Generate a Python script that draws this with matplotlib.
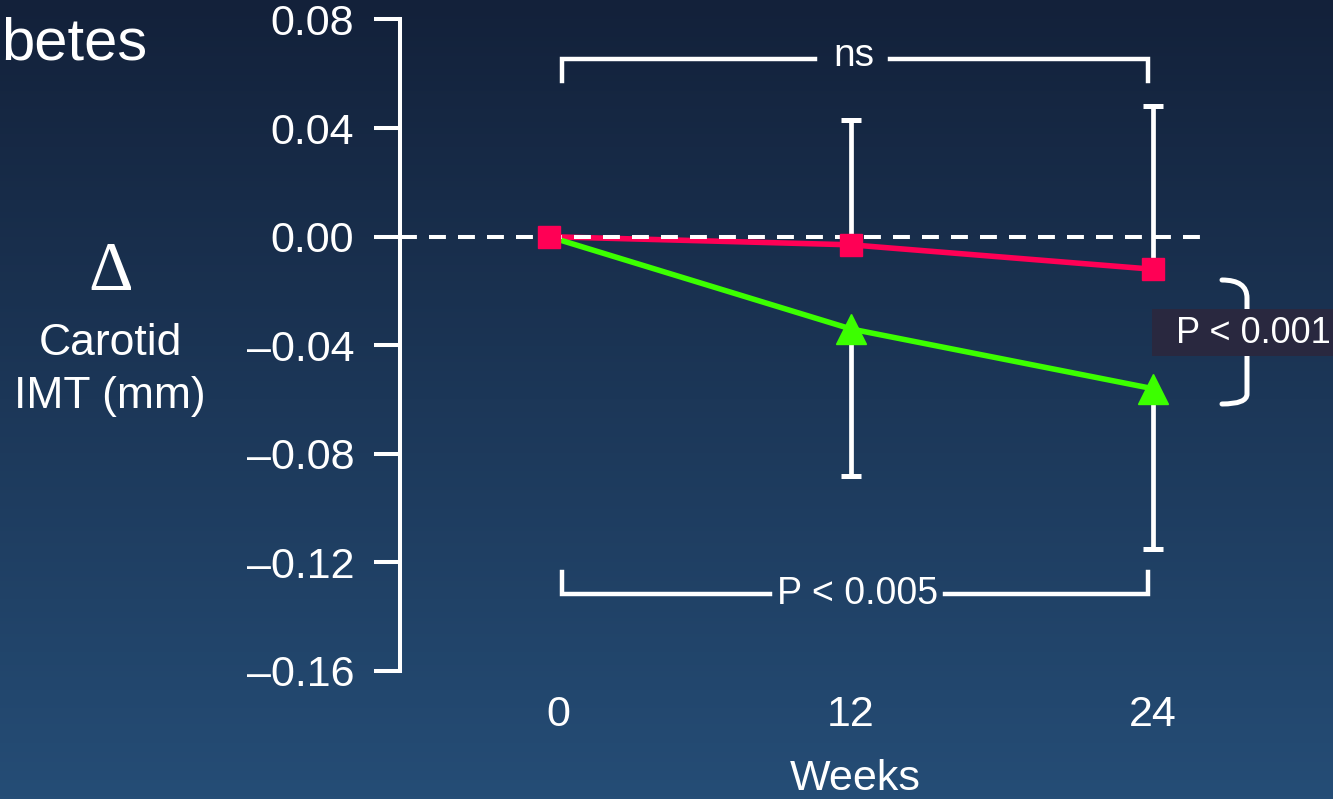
import numpy as np
import matplotlib
matplotlib.use('Agg')
import matplotlib.pyplot as plt
import matplotlib.transforms as mtransforms
from matplotlib.path import Path
from matplotlib.patches import PathPatch, Rectangle

# change in carotid IMT (mm) by visit week
weeks = [0, 12, 24]
red_mean = [0.0, -0.003, -0.012]
green_mean = [0.0, -0.034, -0.056]
# SD only shown at follow-up visits (12, 24)
red_sd = [0.046, 0.060]
green_sd = [0.054, 0.059]

yticks = [0.08, 0.04, 0.00, -0.04, -0.08, -0.12, -0.16]
ytick_labels = ['0.08', '0.04', '0.00', '\u20130.04', '\u20130.08', '\u20130.12', '\u20130.16']
xtick_labels = ['0', '12', '24']

RED = '#ff0055'
GREEN = '#3cff00'
WHITE = 'white'

plt.rcParams['font.family'] = ['Liberation Sans', 'DejaVu Sans']

W, H = 1333, 799
fig = plt.figure(figsize=(W / 100, H / 100), dpi=100)


def px(x, y):
    return x / W, 1 - y / H


# vertical background gradient
bg = fig.add_axes([0, 0, 1, 1], zorder=-10)
top = np.array([0x13, 0x21, 0x3a]) / 255
bot = np.array([0x25, 0x4d, 0x76]) / 255
t = np.linspace(0, 1, 256)[:, None]
grad = top[None, :] * (1 - t) + bot[None, :] * t
bg.imshow(grad[:, None, :], aspect='auto', extent=[0, 1, 0, 1])
bg.axis('off')

ax = fig.add_axes([400 / W, 1 - 671 / H, 805 / W, (671 - 19.5) / H])
ax.patch.set_alpha(0)
ax.set_xlim(-5.92, 26.07)
ax.set_ylim(-0.16, 0.08)

for s in ['top', 'right', 'bottom']:
    ax.spines[s].set_visible(False)
ax.spines['left'].set_color(WHITE)
ax.spines['left'].set_linewidth(2.9)

ax.set_yticks(yticks)
ax.set_yticklabels(ytick_labels)
ax.tick_params(axis='y', colors=WHITE, length=19, width=2.9, pad=14, labelsize=31)
ax.set_xticks(weeks)
ax.set_xticklabels(xtick_labels)
ax.tick_params(axis='x', colors=WHITE, length=0, pad=17, labelsize=31)
# the "0" sits a little right of the first visit
lab0 = ax.get_xticklabels()[0]
lab0.set_transform(lab0.get_transform() + mtransforms.ScaledTranslation(0.09, 0, fig.dpi_scale_trans))

# series lines
ax.plot(weeks, red_mean, color=RED, lw=4, zorder=3)
ax.plot(weeks, green_mean, color=GREEN, lw=4, zorder=3)

# zero reference
ax.axhline(0, color=WHITE, lw=2.9, linestyle=(0, (4.2, 3.0)), zorder=4)

# error bars: red upwards, green downwards
for i, w in enumerate(weeks[1:]):
    rm, gm = red_mean[i + 1], green_mean[i + 1]
    ax.vlines(w, rm, rm + red_sd[i], color=WHITE, lw=3.4, zorder=2)
    ax.vlines(w, gm, gm - green_sd[i], color=WHITE, lw=3.4, zorder=2)
    ax.plot([w, w], [rm + red_sd[i], gm - green_sd[i]], ls='none', marker='_',
            ms=14.5, mew=3.6, color=WHITE, zorder=2)

ax.plot(weeks, red_mean, ls='none', marker='s', ms=16.5, color=RED, zorder=6)
ax.plot(weeks[1:], green_mean[1:], ls='none', marker='^', ms=21, color=GREEN, zorder=6)

# significance brackets
lw_b = 3.2
ax.plot([0.52, 0.52, 10.57], [0.0574, 0.0655, 0.0655], color=WHITE, lw=lw_b, solid_joinstyle='miter')
ax.plot([13.55, 23.8, 23.8], [0.0655, 0.0655, 0.0574], color=WHITE, lw=lw_b, solid_joinstyle='miter')
ax.text(12.1, 0.0665, 'ns', color=WHITE, fontsize=28, ha='center', va='center')

ax.plot([0.52, 0.52, 8.78], [-0.1237, -0.1318, -0.1318], color=WHITE, lw=lw_b, solid_joinstyle='miter')
ax.plot([15.73, 23.8, 23.8], [-0.1318, -0.1318, -0.1237], color=WHITE, lw=lw_b, solid_joinstyle='miter')
ax.text(12.25, -0.1315, 'P < 0.005', color=WHITE, fontsize=27, ha='center', va='center')

# right-hand brace between the two week-24 points
verts = [px(1222, 280), px(1247, 280), px(1247, 298), px(1247, 394),
         px(1247, 404), px(1222, 404)]
codes = [Path.MOVETO, Path.CURVE3, Path.CURVE3, Path.LINETO, Path.CURVE3, Path.CURVE3]
fig.add_artist(PathPatch(Path(verts, codes), transform=fig.transFigure,
                         fill=False, edgecolor=WHITE, lw=3.6, capstyle='round'))
x0, y0 = px(1152, 356)
fig.add_artist(Rectangle((x0, y0), (W - 1152) / W, 47 / H, transform=fig.transFigure,
                         facecolor='#29283f', edgecolor='none', zorder=5))
fig.text(*px(1253, 333), 'P < 0.001', color=WHITE, fontsize=26,
         ha='center', va='center', zorder=6)

# axis titles
fig.text(*px(855, 779), 'Weeks', color=WHITE, fontsize=31, ha='center', va='center')
fig.text(*px(111, 273), '\u0394', color=WHITE, fontsize=50, ha='center', va='center',
         family='Liberation Serif')
fig.text(*px(110, 355), 'Carotid', color=WHITE, fontsize=32, ha='center', va='baseline')
fig.text(*px(110, 408), 'IMT (mm)', color=WHITE, fontsize=32, ha='center', va='baseline')

fig.text(*px(1, 59), 'betes', color=WHITE, fontsize=43, ha='left', va='baseline')

fig.savefig('out.png', dpi=100)
